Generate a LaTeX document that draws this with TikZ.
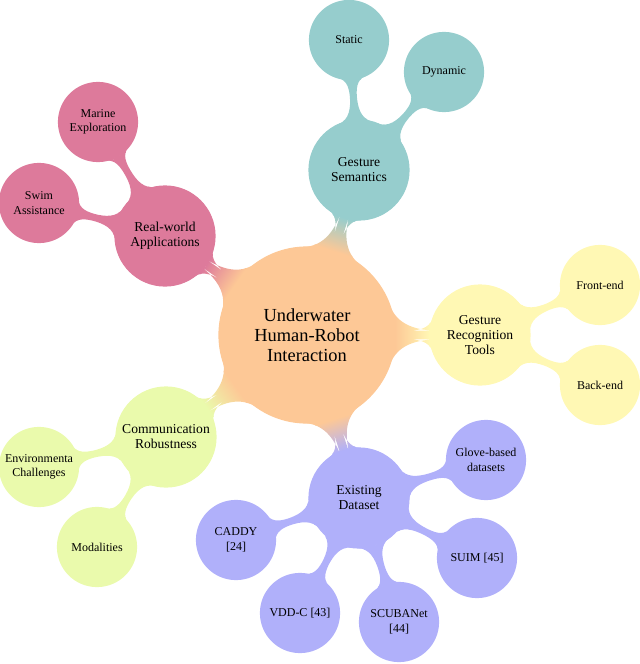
\documentclass[tikz,border=0pt]{standalone}
\usepackage{fontspec}
\setmainfont{Liberation Serif}
\usetikzlibrary{mindmap}
\definecolor{rootcol}{RGB}{253,200,150}
\definecolor{pinkcol}{RGB}{221,122,155}
\definecolor{tealcol}{RGB}{150,205,205}
\definecolor{yelcol}{RGB}{255,248,180}
\definecolor{limecol}{RGB}{234,250,172}
\definecolor{viocol}{RGB}{176,176,250}
\tikzset{
  rootc/.style={concept, concept color=rootcol, text width={}, minimum size=176bp, inner sep=0pt, align=center, font=\fontsize{18.4bp}{20bp}\selectfont},
  lvlone/.style={concept, concept color=#1, text width={}, minimum size=100bp, inner sep=0pt, align=center, font=\fontsize{13.6bp}{15bp}\selectfont},
  lvltwo/.style={concept, concept color=#1, text width={}, minimum size=79bp, inner sep=0pt, align=center, font=\fontsize{12bp}{14.5bp}\selectfont},
  barone/.style={line width=20bp},
  bartwo/.style={line width=13bp},
}
\begin{document}
\begin{tikzpicture}[mindmap, x=1bp, y=-1bp]
\useasboundingbox (0,0) rectangle (640,664);
% root
\node[rootc] (root) at (307,335) {Underwater\\Human-Robot\\Interaction};
% level 1
\node[lvlone=tealcol] (gs) at (359,170) {Gesture\\Semantics};
\node[lvlone=yelcol] (grt) at (480,335) {Gesture\\Recognition\\Tools};
\node[lvlone=viocol] (ed) at (359,498) {Existing\\Dataset};
\node[lvlone=limecol] (cr) at (166,437) {Communication\\Robustness};
\node[lvlone=pinkcol] (ra) at (165,236) {Real-world\\Applications};
% level 2
\node[lvltwo=tealcol] (st) at (349,40) {Static};
\node[lvltwo=tealcol] (dy) at (444,72) {Dynamic};
\node[lvltwo=yelcol] (fe) at (600,285) {Front-end};
\node[lvltwo=yelcol] (be) at (600,385) {Back-end};
\node[lvltwo=viocol] (gb) at (486,460) {Glove-based\\datasets};
\node[lvltwo=viocol] (su) at (477,558) {SUIM [45]};
\node[lvltwo=viocol] (sc) at (399,622) {SCUBANet\\{[44]}};
\node[lvltwo=viocol] (vd) at (300,613) {VDD-C [43]};
\node[lvltwo=viocol] (ca) at (236,540) {CADDY\\{[24]}};
\node[lvltwo=limecol] (en) at (39,467) {Environmenta\\Challenges};
\node[lvltwo=limecol] (mo) at (97,547) {Modalities};
\node[lvltwo=pinkcol] (me) at (98,122) {Marine\\Exploration};
\node[lvltwo=pinkcol] (sw) at (39,203) {Swim\\Assistance};
% connections root -> level 1
\path[barone] (root) to[circle connection bar switch color=from (rootcol) to (tealcol)] (gs);
\path[barone] (root) to[circle connection bar switch color=from (rootcol) to (yelcol)] (grt);
\path[barone] (root) to[circle connection bar switch color=from (rootcol) to (viocol)] (ed);
\path[barone] (root) to[circle connection bar switch color=from (rootcol) to (limecol)] (cr);
\path[barone] (root) to[circle connection bar switch color=from (rootcol) to (pinkcol)] (ra);
% level 1 -> level 2
\path[bartwo] (gs) to[circle connection bar switch color=from (tealcol) to (tealcol)] (st);
\path[bartwo] (gs) to[circle connection bar switch color=from (tealcol) to (tealcol)] (dy);
\path[bartwo] (grt) to[circle connection bar switch color=from (yelcol) to (yelcol)] (fe);
\path[bartwo] (grt) to[circle connection bar switch color=from (yelcol) to (yelcol)] (be);
\path[bartwo] (ed) to[circle connection bar switch color=from (viocol) to (viocol)] (gb);
\path[bartwo] (ed) to[circle connection bar switch color=from (viocol) to (viocol)] (su);
\path[bartwo] (ed) to[circle connection bar switch color=from (viocol) to (viocol)] (sc);
\path[bartwo] (ed) to[circle connection bar switch color=from (viocol) to (viocol)] (vd);
\path[bartwo] (ed) to[circle connection bar switch color=from (viocol) to (viocol)] (ca);
\path[bartwo] (cr) to[circle connection bar switch color=from (limecol) to (limecol)] (en);
\path[bartwo] (cr) to[circle connection bar switch color=from (limecol) to (limecol)] (mo);
\path[bartwo] (ra) to[circle connection bar switch color=from (pinkcol) to (pinkcol)] (me);
\path[bartwo] (ra) to[circle connection bar switch color=from (pinkcol) to (pinkcol)] (sw);
\end{tikzpicture}
\end{document}
